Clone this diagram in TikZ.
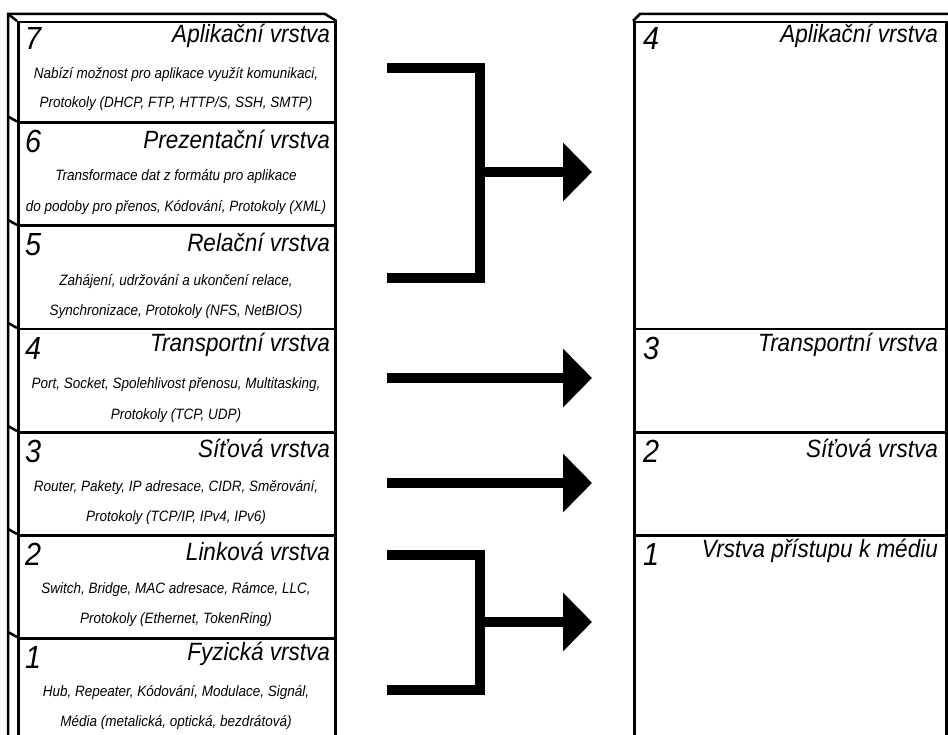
\documentclass[tikz,border=0pt]{standalone}
\usepackage{fontspec}
\setmainfont{Liberation Sans}[FakeStretch=0.9]
\usetikzlibrary{arrows.meta}
\tikzset{
  layer/.style={draw, line width=2.5pt, minimum width=317pt, inner sep=0pt, anchor=north west},
  num/.style={anchor=west, inner sep=0pt, font=\itshape\fontsize{32}{32}\selectfont},
  title/.style={anchor=east, inner sep=0pt, font=\itshape\fontsize{25}{25}\selectfont},
  desc/.style={inner sep=0pt, font=\itshape\fontsize{15}{15}\selectfont},
  edge/.style={line width=2.5pt},
  bar/.style={line width=10pt},
  bigarrow/.style={line width=10pt, -{Triangle[length=29pt,width=57pt]}}
}
\begin{document}
\begin{tikzpicture}[x=1pt,y=-1pt]
\clip (0,0) rectangle (948,735);
\node[layer, minimum height=100.5pt] (L7) at (17,21) {};
\node[layer, minimum height=103pt] (L6) at (17,121.5) {};
\node[layer, minimum height=103pt] (L5) at (17,225) {};
\node[layer, minimum height=103pt] (L4) at (17,328) {};
\node[layer, minimum height=103pt] (L3) at (17,431) {};
\node[layer, minimum height=103pt] (L2) at (17,534) {};
\node[layer, minimum height=103pt] (L1) at (17,637) {};
\draw[edge] (8,760) -- (8,14) -- (325,14) -- (L7.north east);
\draw[edge] (8,14) -- (L7.north west);
\draw[edge] (8,116.5) -- (L6.north west);
\draw[edge] (8,220) -- (L5.north west);
\draw[edge] (8,323) -- (L4.north west);
\draw[edge] (8,426) -- (L3.north west);
\draw[edge] (8,529) -- (L2.north west);
\draw[edge] (8,632) -- (L1.north west);
\node[num] (n7) at (25,38) {7};
\node[title] (t7) at (330,36) {Aplikační vrstva};
\node[desc] (d7a) at (176,75) {Nabízí možnost pro aplikace využít komunikaci,};
\node[desc] (d7b) at (176,104) {Protokoly (DHCP, FTP, HTTP/S, SSH, SMTP)};
\node[num] (n6) at (25,141) {6};
\node[title] (t6) at (330,139) {Prezentační vrstva};
\node[desc] (d6a) at (176,177) {Transformace dat z formátu pro aplikace};
\node[desc] (d6b) at (176,208) {do podoby pro přenos, Kódování, Protokoly (XML)};
\node[num] (n5) at (25,245) {5};
\node[title] (t5) at (330,242) {Relační vrstva};
\node[desc] (d5a) at (176,282) {Zahájení, udržování a ukončení relace,};
\node[desc] (d5b) at (176,312) {Synchronizace, Protokoly (NFS, NetBIOS)};
\node[num] (n4) at (25,348) {4};
\node[title] (t4) at (330,345) {Transportní vrstva};
\node[desc] (d4a) at (176,385) {Port, Socket, Spolehlivost přenosu, Multitasking,};
\node[desc] (d4b) at (176,416) {Protokoly (TCP, UDP)};
\node[num] (n3) at (25,451) {3};
\node[title] (t3) at (330,448) {Síťová vrstva};
\node[desc] (d3a) at (176,488) {Router, Pakety, IP adresace, CIDR, Směrování,};
\node[desc] (d3b) at (176,518) {Protokoly (TCP/IP, IPv4, IPv6)};
\node[num] (n2) at (25,554) {2};
\node[title] (t2) at (330,551) {Linková vrstva};
\node[desc] (d2a) at (176,590) {Switch, Bridge, MAC adresace, Rámce, LLC,};
\node[desc] (d2b) at (176,620) {Protokoly (Ethernet, TokenRing)};
\node[num] (n1) at (25,657) {1};
\node[title] (t1) at (330,654) {Fyzická vrstva};
\node[desc] (d1a) at (176,693) {Hub, Repeater, Kódování, Modulace, Signál,};
\node[desc] (d1b) at (176,723) {Média (metalická, optická, bezdrátová)};
\node[layer, minimum width=312pt, minimum height=307pt] (R4) at (633,21) {};
\node[layer, minimum width=312pt, minimum height=103pt] (R3) at (633,328) {};
\node[layer, minimum width=312pt, minimum height=103pt] (R2) at (633,431) {};
\node[layer, minimum width=312pt, minimum height=206pt] (R1) at (633,534) {};
\draw[edge] (R4.north west) -- (640,14) -- (950,14);
\node[num] (m4) at (643,38) {4};
\node[title] (s4) at (938,36) {Aplikační vrstva};
\node[num] (m3) at (643,348) {3};
\node[title] (s3) at (938,345) {Transportní vrstva};
\node[num] (m2) at (643,451) {2};
\node[title] (s2) at (938,448) {Síťová vrstva};
\node[num] (m1) at (643,554) {1};
\node[title] (s1) at (938,551) {Vrstva přístupu k médiu};
\coordinate (a1) at (387,68);
\coordinate (a2) at (479.5,68);
\coordinate (a3) at (479.5,278);
\coordinate (a4) at (387,278);
\coordinate (a5) at (479.5,172);
\coordinate (a6) at (592,172);
\draw[bar] (a1) -- (a2) -- (a3) -- (a4);
\draw[bigarrow] (a5) -- (a6);
\coordinate (b1) at (387,378);
\coordinate (b2) at (592,378);
\draw[bigarrow] (b1) -- (b2);
\coordinate (c1) at (387,483);
\coordinate (c2) at (592,483);
\draw[bigarrow] (c1) -- (c2);
\coordinate (e1) at (387,555);
\coordinate (e2) at (479.5,555);
\coordinate (e3) at (479.5,690);
\coordinate (e4) at (387,690);
\coordinate (e5) at (479.5,622);
\coordinate (e6) at (592,622);
\draw[bar] (e1) -- (e2) -- (e3) -- (e4);
\draw[bigarrow] (e5) -- (e6);
\end{tikzpicture}
\end{document}
